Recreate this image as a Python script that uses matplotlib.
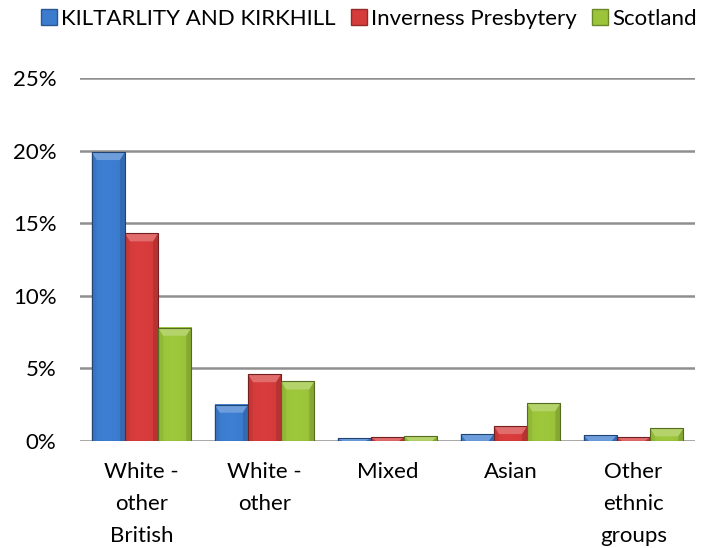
import numpy as np
import matplotlib
matplotlib.use("Agg")
import matplotlib.pyplot as plt
from matplotlib.patches import Patch, Polygon
from matplotlib.colors import to_rgb

# data
kategorier = ["White -\nother\nBritish", "White -\nother", "Mixed", "Asian", "Other\nethnic\ngroups"]
serier = ["KILTARLITY AND KIRKHILL", "Inverness Presbytery", "Scotland"]
kiltarlity = [19.9, 2.5, 0.18, 0.48, 0.4]
inverness = [14.3, 4.6, 0.25, 1.03, 0.25]
skottland = [7.8, 4.1, 0.32, 2.6, 0.87]
y_ticks = [0, 5, 10, 15, 20, 25]

farger = ["#3c7ccf", "#d53b3b", "#9bc43a"]

plt.rcParams["font.family"] = ["Lato", "DejaVu Sans"]

fig = plt.figure(figsize=(7.03, 5.48), dpi=100)
ax = fig.add_axes([80 / 703, 1 - 441 / 548, 615 / 703, 363 / 548])


def lys(c, f):
    r = np.array(to_rgb(c))
    return tuple(r + (1 - r) * f)


def mork(c, f):
    r = np.array(to_rgb(c))
    return tuple(r * (1 - f))


def tegn_stolpe(ax, x0, b, h, farge):
    """Tegner en stolpe med gradient og skrå topp (bevel)."""
    # horisontal gradient
    n = 40
    t = np.linspace(0, 1, n)
    prof = 1 - 0.9 * np.abs(t - 0.45) ** 2
    base = np.array(to_rgb(farge))
    img = np.clip(base[None, :] * (0.8 + 0.22 * prof[:, None]), 0, 1)
    ax.imshow(img[None, :, :], extent=(x0, x0 + b, 0, h), aspect="auto",
              interpolation="bilinear", zorder=3)
    ax.add_patch(plt.Rectangle((x0, 0), b, h, fill=False,
                               edgecolor=mork(farge, 0.45), lw=0.8, zorder=5))
    # bevel på toppen
    dy = min(8 * 25 / 363, h)
    dx = 5 / 123
    topp = Polygon([(x0, h), (x0 + b, h), (x0 + b - dx, h - dy), (x0 + dx, h - dy)],
                   closed=True, facecolor=lys(farge, 0.25), edgecolor="none", zorder=4)
    ax.add_patch(topp)
    venstre = Polygon([(x0, h), (x0 + dx, h - dy), (x0 + dx, 0), (x0, 0)],
                      closed=True, facecolor=mork(farge, 0.1), edgecolor="none",
                      alpha=0.5, zorder=4)
    ax.add_patch(venstre)
    hoyre = Polygon([(x0 + b, h), (x0 + b - dx, h - dy), (x0 + b - dx, 0), (x0 + b, 0)],
                    closed=True, facecolor=mork(farge, 0.25), edgecolor="none",
                    alpha=0.5, zorder=4)
    ax.add_patch(hoyre)


x = np.arange(len(kategorier))
bredde = 0.27
for i, (verdier, farge) in enumerate(zip([kiltarlity, inverness, skottland], farger)):
    for xi, v in zip(x, verdier):
        x0 = xi - 1.5 * bredde + i * bredde
        tegn_stolpe(ax, x0, bredde, v, farge)

ax.set_xlim(-0.5, len(kategorier) - 0.5)
ax.set_ylim(0, 25)
ax.set_yticks(y_ticks)
ax.set_yticklabels([f"{t}%" for t in y_ticks])
ax.set_xticks(x)
ax.set_xticklabels(kategorier, linespacing=1.75, va="top")
ax.tick_params(axis="both", length=0, labelsize=16, colors="black")
ax.tick_params(axis="y", pad=17)
ax.tick_params(axis="x", pad=15)
for s in ax.spines.values():
    s.set_visible(False)
ax.grid(axis="y", color="#8f8f8f", lw=1.8, zorder=1)
ax.set_axisbelow(True)

handles = [Patch(facecolor=f, edgecolor=mork(f, 0.3), label=s) for s, f in zip(serier, farger)]
fig.legend(handles=handles, loc="upper center", bbox_to_anchor=(0.525, 1.0), ncol=3,
           frameon=False, fontsize=16, handlelength=0.7, handleheight=0.7,
           handletextpad=0.2, columnspacing=0.7, borderaxespad=0.0)

fig.savefig("out.png", dpi=100, facecolor="white")
